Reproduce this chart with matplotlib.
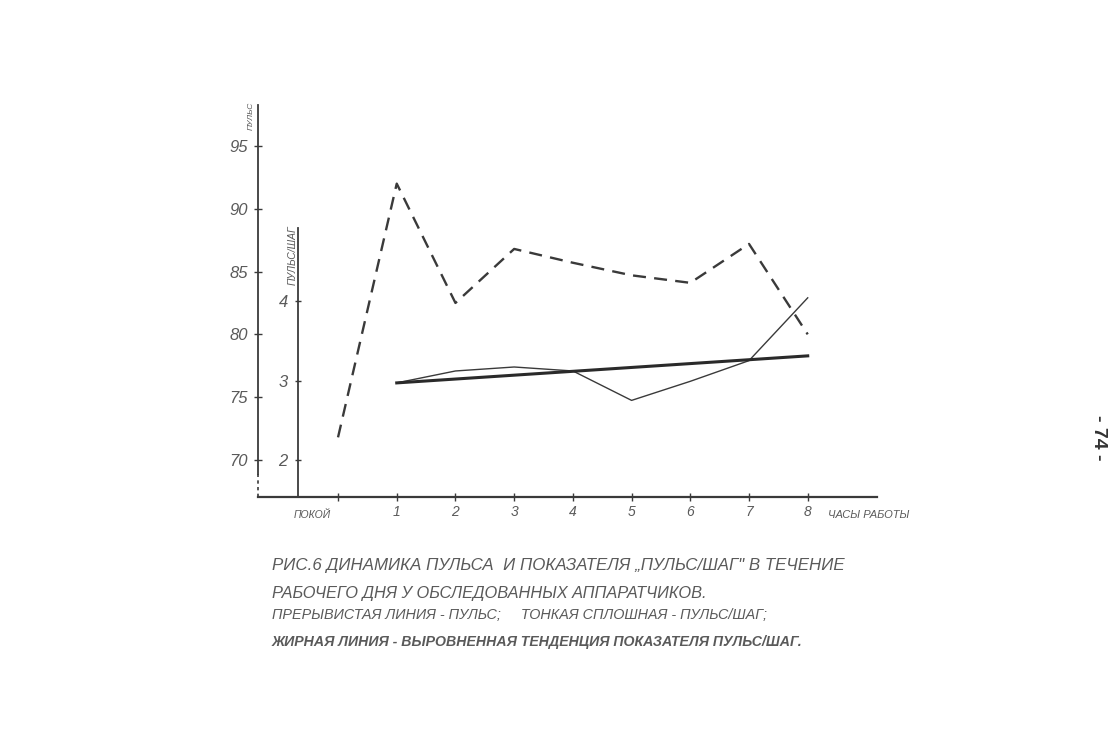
import matplotlib
matplotlib.use("Agg")
import matplotlib.pyplot as plt

# Данные (рис. 6)
hours = [0, 1, 2, 3, 4, 5, 6, 7, 8]
hour_labels = ["ПОКОЙ", "1", "2", "3", "4", "5", "6", "7", "8"]

# Пульс (прерывистая линия), уд/мин
pulse = [71.8, 92.0, 82.5, 86.8, 85.7, 84.7, 84.1, 87.2, 80.0]

# Показатель пульс/шаг (тонкая сплошная), часы 1..8
work_hours = [1, 2, 3, 4, 5, 6, 7, 8]
pulse_step = [2.97, 3.12, 3.17, 3.12, 2.75, 2.99, 3.25, 4.04]

# Выровненная тенденция (жирная линия)
trend_hours = [1, 8]
trend = [2.97, 3.31]

pulse_ticks = [70, 75, 80, 85, 90, 95]
ps_ticks = [2, 3, 4]

ink = "#3a3a3a"
text_col = "#5a5a5a"
fnt = ["Liberation Sans", "DejaVu Sans"]

W, H = 1120, 754
fig = plt.figure(figsize=(W / 100, H / 100), dpi=100)

# оси: левая граница x=258px, низ y=497px, верх y=105px, правый конец x=877px
left, right, bottom, top = 258, 877, 497, 105
ax = fig.add_axes([left / W, 1 - bottom / H, (right - left) / W, (bottom - top) / H])
ax.set_xlim(-1.363, 9.18)
ax.set_ylim(67.05, 98.26)
ax.patch.set_alpha(0)

for s in ["top", "right"]:
    ax.spines[s].set_visible(False)
ax.spines["left"].set_bounds(68.9, 98.26)
ax.spines["left"].set_color(ink)
ax.spines["bottom"].set_color(ink)
ax.spines["left"].set_linewidth(1.3)
ax.spines["bottom"].set_linewidth(1.6)
# разрыв оси пульса внизу
ax.plot([-1.363, -1.363], [67.05, 68.9], color=ink, lw=1.2, ls=(0, (2, 2)), clip_on=False)

ax.set_yticks(pulse_ticks)
ax.set_yticklabels([str(t) for t in pulse_ticks], family=fnt, style="italic",
                   fontsize=12, color=text_col)
ax.tick_params(axis="y", direction="inout", length=6, width=1, color=ink, pad=4)

ax.set_xticks(hours)
ax.set_xticklabels([""] + hour_labels[1:], family=fnt, style="italic",
                   fontsize=10, color=text_col)
ax.tick_params(axis="x", direction="inout", length=6, width=1, color=ink, pad=3)
ax.text(-0.12, 66.05, hour_labels[0], ha="right", va="top", family=fnt, style="italic",
        fontsize=7.5, color=text_col)
ax.text(8.35, 66.05, "ЧАСЫ РАБОТЫ", ha="left", va="top", family=fnt, style="italic",
        fontsize=8, color=text_col)
ax.text(-1.48, 97.4, "ПУЛЬС", rotation=90, ha="center", va="center", family=fnt,
        style="italic", fontsize=6, color=text_col)

# пульс
ax.plot(hours, pulse, color=ink, lw=1.7, ls=(0, (5.5, 3.5)))

# вторая ось: пульс/шаг, x=298px
ax2 = ax.twinx()
ax2.set_position(ax.get_position())
ax2.set_ylim(1.535, 6.465)
ax2.patch.set_alpha(0)
for s in ["top", "right", "bottom"]:
    ax2.spines[s].set_visible(False)
ax2.spines["left"].set_visible(True)
ax2.spines["left"].set_position(("data", -0.68))
ax2.spines["left"].set_bounds(1.535, 4.92)
ax2.spines["left"].set_color(ink)
ax2.spines["left"].set_linewidth(1.3)
ax2.yaxis.set_ticks_position("left")
ax2.set_yticks(ps_ticks)
ax2.set_yticklabels([str(t) for t in ps_ticks], family=fnt, style="italic",
                    fontsize=12, color=text_col)
ax2.tick_params(axis="y", direction="inout", length=5, width=1, color=ink, pad=5)
ax2.text(-0.78, 4.57, "ПУЛЬС/ШАГ", rotation=90, ha="center", va="center", family=fnt,
         style="italic", fontsize=7.5, color=text_col)

ax2.plot(work_hours, pulse_step, color=ink, lw=1.0)
ax2.plot(trend_hours, trend, color="#2a2a2a", lw=2.2)

# подпись к рисунку
cap = dict(family=fnt, style="italic", color=text_col, ha="left", va="baseline")
fig.text(272 / W, 1 - 570 / H, "РИС.6 ДИНАМИКА ПУЛЬСА  И ПОКАЗАТЕЛЯ „ПУЛЬС/ШАГ\" В ТЕЧЕНИЕ",
         fontsize=12.2, **cap)
fig.text(272 / W, 1 - 598 / H, "РАБОЧЕГО ДНЯ У ОБСЛЕДОВАННЫХ АППАРАТЧИКОВ.", fontsize=11.8, **cap)
fig.text(272 / W, 1 - 619 / H, "ПРЕРЫВИСТАЯ ЛИНИЯ - ПУЛЬС;     ТОНКАЯ СПЛОШНАЯ - ПУЛЬС/ШАГ;",
         fontsize=10.4, **cap)
fig.text(272 / W, 1 - 646 / H, "ЖИРНАЯ ЛИНИЯ - ВЫРОВНЕННАЯ ТЕНДЕНЦИЯ ПОКАЗАТЕЛЯ ПУЛЬС/ШАГ.",
         fontsize=10.2, weight="bold", **cap)

# номер страницы
fig.text(1098 / W, 1 - 438 / H, "- 74 -", rotation=-90, ha="center", va="center",
         family=fnt, fontsize=14, weight="bold", color="#333333")

fig.savefig("out.png", dpi=100, facecolor="white")
